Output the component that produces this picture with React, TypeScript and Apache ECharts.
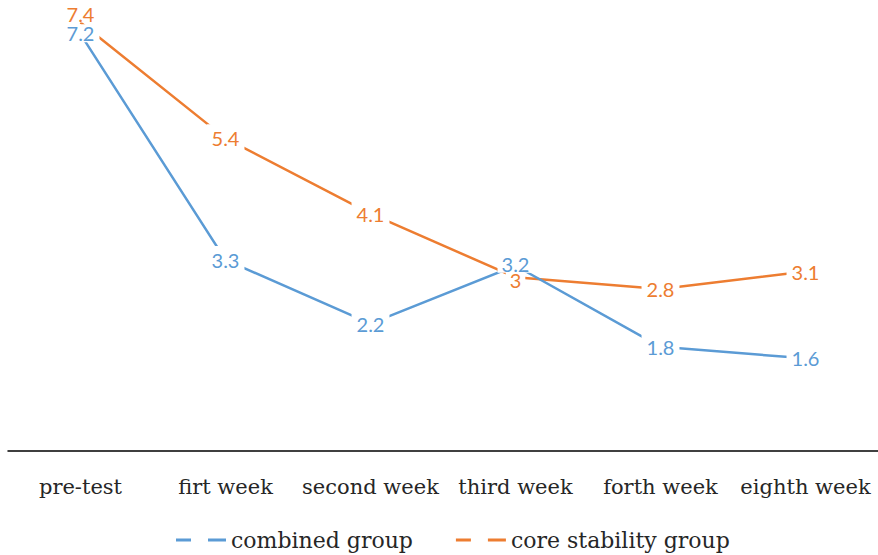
import React, { useEffect, useRef } from "react";
import * as echarts from "echarts";

const categories = ["pre-test", "firt week", "second week", "third week", "forth week", "eighth week"];
const combinedGroup = [7.2, 3.3, 2.2, 3.2, 1.8, 1.6];
const coreStabilityGroup = [7.4, 5.4, 4.1, 3, 2.8, 3.1];

const BLUE = "#5B9BD5";
const ORANGE = "#ED7D31";

// per-point label tweaks (styling only) for crowded points
const blueLabelTweaks: Record<number, any> = {
  0: { padding: [0, 5], offset: [0, -1] },
  3: { padding: [0, 4], offset: [0, -2] },
};
const orangeLabelTweaks: Record<number, any> = {
  0: { padding: [0, 5], offset: [0, -9] },
  3: { padding: [0, 4], offset: [0, 3] },
};

export default function App() {
  const ref = useRef<HTMLDivElement>(null);
  useEffect(() => {
    if (!ref.current) return;
    const chart = echarts.init(ref.current, null, { renderer: "svg" });
    const mkSeries = (name: string, data: number[], color: string, tweaks: Record<number, any>, z: number) => ({
      name,
      type: "line",
      z,
      data: data.map((v, i) => (tweaks[i] ? { value: v, label: tweaks[i] } : v)),
      symbol: "circle",
      symbolSize: 1,
      itemStyle: { color },
      lineStyle: { color, width: 2.5 },
      label: {
        show: true,
        position: "inside",
        color,
        fontFamily: "Lato",
        fontSize: 20,
        lineHeight: 18,
        backgroundColor: "#ffffff",
        padding: [5, 5],
      },
    });
    chart.setOption({
      animation: false,
      backgroundColor: "#ffffff",
      grid: { left: 8, right: 0, top: 11, bottom: 104, containLabel: false },
      xAxis: {
        type: "category",
        data: categories,
        boundaryGap: true,
        axisLine: { lineStyle: { color: "#000000", width: 1.5 } },
        axisTick: { show: false },
        axisLabel: {
          color: "#262626",
          fontFamily: "DejaVu Serif",
          fontSize: 21,
          margin: 25,
          interval: 0,
        },
      },
      yAxis: {
        type: "value",
        min: 0,
        max: 7.6,
        show: false,
        splitLine: { show: false },
      },
      legend: {
        top: 524,
        left: 171,
        itemWidth: 50,
        itemHeight: 3,
        itemGap: 43,
        icon: "path://M0,0H15V3H0Z M32,0H50V3H32Z",
        textStyle: { fontFamily: "DejaVu Serif", fontSize: 22, color: "#262626" },
        data: [
          { name: "combined group", itemStyle: { color: BLUE } },
          { name: "core stability group", itemStyle: { color: ORANGE } },
        ],
      },
      series: [
        mkSeries("core stability group", coreStabilityGroup, ORANGE, orangeLabelTweaks, 2),
        mkSeries("combined group", combinedGroup, BLUE, blueLabelTweaks, 3),
      ],
    });
    return () => chart.dispose();
  }, []);
  return (
    <div
      ref={ref}
      style={{ position: "fixed", left: 0, top: 0, width: 878, height: 555, background: "#fff" }}
    />
  );
}
